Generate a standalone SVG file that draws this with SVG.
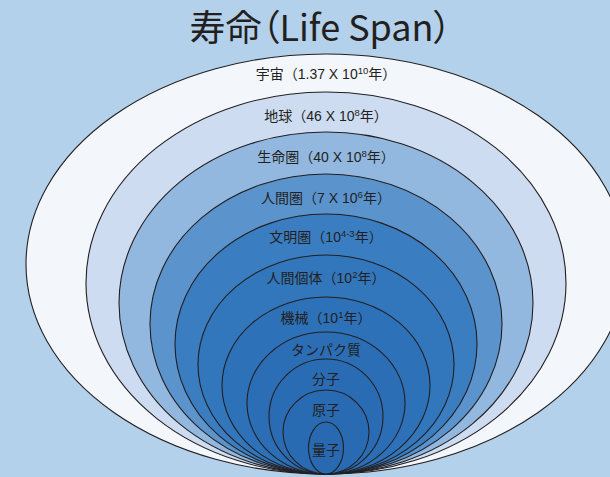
<svg xmlns="http://www.w3.org/2000/svg" width="610" height="477" viewBox="0 0 610 477">
<style>
.e{stroke:#231f20;stroke-width:1.1}
.t{font-family:"Liberation Sans","Noto Sans CJK JP",sans-serif;font-size:14px;fill:#231f20;text-anchor:middle}
.s{font-size:9.5px}
.title{font-family:"Noto Sans CJK JP",sans-serif;font-size:36px;fill:#231f20;text-anchor:middle;font-feature-settings:"palt"}
</style>
<rect width="610" height="477" fill="#b3d1eb"/>
<text class="title" x="320.5" y="41">寿命（Life Span）</text>
<g id="uchu"><ellipse class="e" cx="326" cy="264" rx="300" ry="210" fill="#f3f6fb"/><text class="t" x="326" y="79">宇宙（1.37 X 10<tspan class="s" dy="-5">10</tspan><tspan dy="5">年）</tspan></text></g>
<g id="chikyu"><ellipse class="e" cx="326" cy="283" rx="240" ry="191" fill="#cddcf1"/><text class="t" x="326" y="121">地球（46 X 10<tspan class="s" dy="-5">8</tspan><tspan dy="5">年）</tspan></text></g>
<g id="seimeiken"><ellipse class="e" cx="326" cy="303" rx="207" ry="171" fill="#93b8e0"/><text class="t" x="326" y="162">生命圏（40 X 10<tspan class="s" dy="-5">8</tspan><tspan dy="5">年）</tspan></text></g>
<g id="ningenken"><ellipse class="e" cx="326" cy="324" rx="176" ry="150" fill="#5b93cd"/><text class="t" x="326" y="203">人間圏（7 X 10<tspan class="s" dy="-5">6</tspan><tspan dy="5">年）</tspan></text></g>
<g id="bunmeiken"><ellipse class="e" cx="326" cy="344" rx="151" ry="130" fill="#3b7dc1"/><text class="t" x="326" y="242">文明圏（10<tspan class="s" dy="-5">4-3</tspan><tspan dy="5">年）</tspan></text></g>
<g id="ningenkotai"><ellipse class="e" cx="326" cy="364.5" rx="128" ry="109.5" fill="#3276bc"/><text class="t" x="326" y="283">人間個体（10<tspan class="s" dy="-5">2</tspan><tspan dy="5">年）</tspan></text></g>
<g id="kikai"><ellipse class="e" cx="326" cy="385.5" rx="104" ry="88.5" fill="#2d71b8"/><text class="t" x="326" y="323">機械（10<tspan class="s" dy="-5">1</tspan><tspan dy="5">年）</tspan></text></g>
<g id="tanpakushitsu"><ellipse class="e" cx="326" cy="403" rx="79" ry="71" fill="#2b6eb5"/><text class="t" x="326" y="355">タンパク質</text></g>
<g id="bunshi"><ellipse class="e" cx="326" cy="416.5" rx="57" ry="57.5" fill="#2a6cb3"/><text class="t" x="326" y="384">分子</text></g>
<g id="genshi"><ellipse class="e" cx="326" cy="432" rx="43" ry="42" fill="#296bb2"/><text class="t" x="326" y="415">原子</text></g>
<g id="ryoshi"><ellipse class="e" cx="326" cy="448" rx="17.5" ry="26" fill="#2869b1"/><text class="t" x="326" y="455">量子</text></g>
<g id="connectors"/>
</svg>
